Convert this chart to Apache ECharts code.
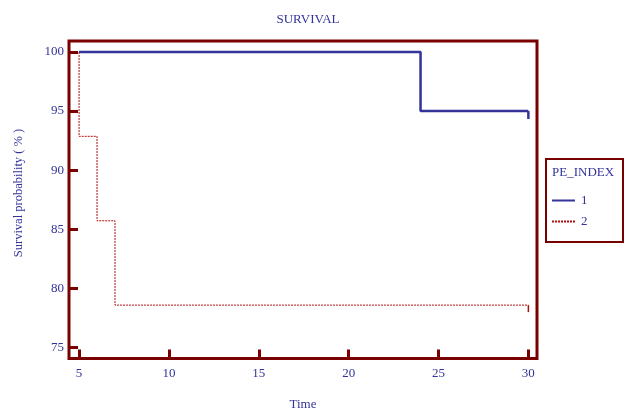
<!DOCTYPE html>
<html>
<head>
<meta charset="utf-8">
<script src="https://cdn.jsdelivr.net/npm/echarts@6/dist/echarts.min.js"></script>
<style>
html,body{margin:0;padding:0;background:#fff;}
#chart{width:624px;height:410px;}
</style>
</head>
<body>
<div id="chart"></div>
<script>
// ---- data ----
var titleText = 'SURVIVAL';
var xName = 'Time';
var yName = 'Survival probability ( % )';
var legendTitle = 'PE_INDEX';
var groupNames = ['1', '2'];
// step points (time, survival %)
var times1 = [5, 24, 30];
var surv1 = [100, 95, 95];
var times2 = [5, 5, 6, 7, 30];
var surv2 = [100, 92.86, 85.71, 78.57, 78.57];
var xTicks = [5, 10, 15, 20, 25, 30];
var yTicks = [75, 80, 85, 90, 95, 100];

var NAVY = '#33339a';
var DARKRED = '#7a0000';
var RED = '#b01010';
var FONT = 'Liberation Serif';

function pts(t, s, lastSymbol) {
  return t.map(function (v, i) {
    var p = { value: [v, s[i]] };
    if (i === t.length - 1) {
      p.symbol = 'rect';
      p.symbolSize = lastSymbol.size;
      p.symbolOffset = [0, lastSymbol.size[1] / 2];
      p.itemStyle = { color: lastSymbol.color, opacity: 1 };
    }
    return p;
  });
}

var chart = echarts.init(document.getElementById('chart'), null, { renderer: 'canvas' });
chart.setOption({
  animation: false,
  backgroundColor: '#fff',
  textStyle: { fontFamily: FONT },
  title: {
    text: titleText,
    left: 303, top: 8, textAlign: 'center',
    textStyle: { fontFamily: FONT, fontSize: 13, fontWeight: 'normal', color: NAVY }
  },
  grid: {
    left: 69, right: 87, top: 41, bottom: 51.5,
    outerBoundsMode: 'none', containLabel: false,
    show: true, borderColor: DARKRED, borderWidth: 3, backgroundColor: 'transparent'
  },
  xAxis: {
    type: 'value', min: 4.44, max: 30.48,
    name: xName, nameLocation: 'middle', nameGap: 40,
    nameTextStyle: { fontFamily: FONT, fontSize: 13, color: NAVY },
    axisLine: { show: false },
    axisTick: { show: true, inside: true, length: 9, lineStyle: { color: DARKRED, width: 3 }, customValues: xTicks },
    axisLabel: { color: NAVY, fontFamily: FONT, fontSize: 13, margin: 9, customValues: xTicks },
    splitLine: { show: false }
  },
  yAxis: {
    type: 'value', min: 74.05, max: 100.93,
    axisLine: { show: false },
    axisTick: { show: true, inside: true, length: 9, lineStyle: { color: DARKRED, width: 3 }, customValues: yTicks },
    axisLabel: { color: NAVY, fontFamily: FONT, fontSize: 13, margin: 5, padding: [0, 0, 5, 0], customValues: yTicks },
    splitLine: { show: false }
  },
  legend: {
    orient: 'vertical', left: 551, top: 194, padding: 0,
    itemWidth: 23, itemHeight: 14, itemGap: 8,
    itemStyle: { opacity: 0 },
    textStyle: { fontFamily: FONT, fontSize: 13, color: NAVY, padding: [0, 0, 0, 1] },
    data: groupNames
  },
  graphic: [
    { type: 'rect', left: 545, top: 158, shape: { width: 77, height: 83 },
      style: { fill: 'transparent', stroke: DARKRED, lineWidth: 2 }, z: 1 },
    { type: 'text', left: 552, top: 166,
      style: { text: legendTitle, font: '13px "Liberation Serif"', fill: NAVY } },
    { type: 'text', x: 19, y: 193, rotation: Math.PI / 2,
      style: { text: yName, font: '12.5px "Liberation Serif"', fill: NAVY, align: 'center', verticalAlign: 'middle' } }
  ],
  series: [
    {
      name: groupNames[0], type: 'line', step: 'end',
      symbol: 'none', showSymbol: true,
      lineStyle: { color: NAVY, width: 2.5 },
      itemStyle: { color: NAVY },
      data: pts(times1, surv1, { size: [2.5, 8], color: NAVY }),
      z: 3
    },
    {
      name: groupNames[1], type: 'line', step: 'end',
      symbol: 'none', showSymbol: true,
      lineStyle: { color: RED, width: 1, type: [2, 1] },
      itemStyle: { color: RED },
      data: pts(times2, surv2, { size: [1.5, 7], color: RED }),
      z: 2
    }
  ]
});
</script>
</body>
</html>
